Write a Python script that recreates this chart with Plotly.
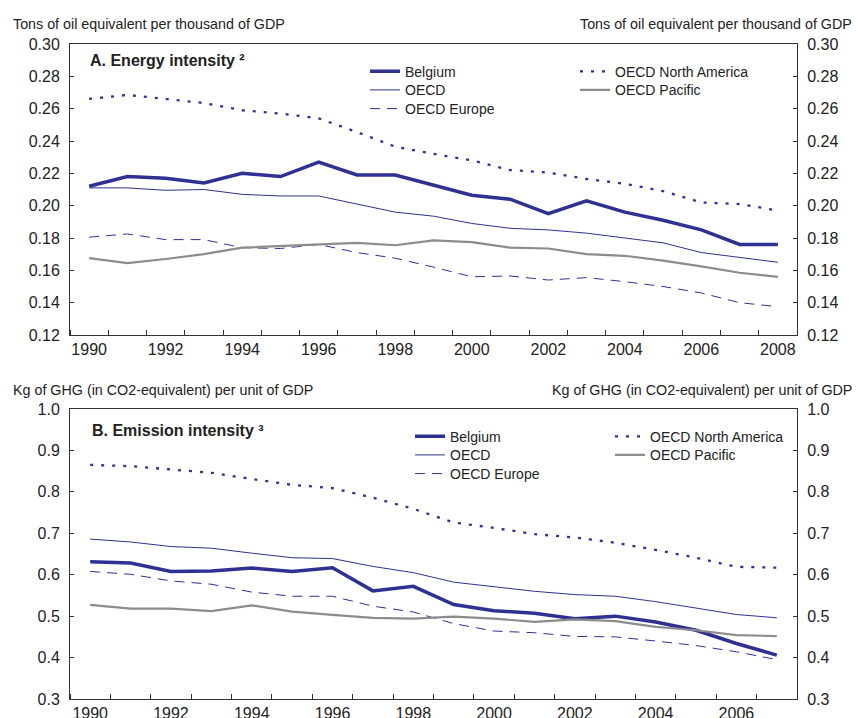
import plotly.graph_objects as go

years_energy = list(range(1990, 2009))
years_ghg = list(range(1990, 2008))

belgium_energy = [0.212, 0.218, 0.217, 0.214, 0.220, 0.218, 0.227, 0.219, 0.219, 0.213, 0.2065, 0.204, 0.195, 0.203, 0.196, 0.191, 0.185, 0.176, 0.176]
oecd_energy = [0.211, 0.211, 0.2095, 0.210, 0.207, 0.206, 0.206, 0.201, 0.196, 0.1935, 0.189, 0.186, 0.185, 0.183, 0.180, 0.177, 0.171, 0.168, 0.165]
europe_energy = [0.1805, 0.1825, 0.179, 0.179, 0.174, 0.1735, 0.176, 0.171, 0.1675, 0.162, 0.156, 0.1565, 0.154, 0.1555, 0.153, 0.150, 0.146, 0.140, 0.1375]
namerica_energy = [0.266, 0.2685, 0.266, 0.2635, 0.259, 0.257, 0.254, 0.2455, 0.2365, 0.232, 0.228, 0.222, 0.2205, 0.2165, 0.2135, 0.209, 0.202, 0.201, 0.197]
pacific_energy = [0.1675, 0.1645, 0.167, 0.170, 0.174, 0.175, 0.176, 0.177, 0.1755, 0.1785, 0.1775, 0.174, 0.1735, 0.170, 0.169, 0.166, 0.1625, 0.1585, 0.156]

belgium_ghg = [0.631, 0.628, 0.608, 0.609, 0.616, 0.608, 0.617, 0.561, 0.572, 0.528, 0.513, 0.507, 0.494, 0.500, 0.486, 0.466, 0.434, 0.406]
oecd_ghg = [0.686, 0.679, 0.668, 0.664, 0.652, 0.641, 0.639, 0.620, 0.605, 0.582, 0.571, 0.560, 0.552, 0.548, 0.535, 0.520, 0.504, 0.496]
europe_ghg = [0.608, 0.601, 0.585, 0.577, 0.558, 0.548, 0.548, 0.524, 0.510, 0.482, 0.464, 0.460, 0.451, 0.450, 0.440, 0.429, 0.414, 0.395]
namerica_ghg = [0.865, 0.862, 0.854, 0.846, 0.831, 0.817, 0.809, 0.786, 0.759, 0.726, 0.713, 0.698, 0.690, 0.677, 0.660, 0.641, 0.619, 0.617]
pacific_ghg = [0.527, 0.518, 0.518, 0.512, 0.526, 0.511, 0.503, 0.496, 0.494, 0.499, 0.494, 0.486, 0.492, 0.488, 0.474, 0.466, 0.454, 0.452]

series_names = ["Belgium", "OECD", "OECD Europe", "OECD North America", "OECD Pacific"]

BLUE = "#2E3192"
GRAY = "#8C8C8C"
FONT = "Liberation Sans, Arial, sans-serif"
TXT = "#222222"

styles = {
    "Belgium": dict(color=BLUE, width=3.5),
    "OECD": dict(color=BLUE, width=1),
    "OECD Europe": dict(color=BLUE, width=1, dash="10px,7px"),
    "OECD North America": dict(color=BLUE, width=2.3, dash="3px,8px"),
    "OECD Pacific": dict(color=GRAY, width=2.2),
}

# figure geometry, in window pixels (page margin removed below)
W, H = 856, 718
L, T = 70, 44
R = W - 797
B = H - 699
PW = W - L - R
PH = H - T - B


def px_x(p):
    return (p - L) / PW


def px_y(p):
    return (H - B - p) / PH


# legend placement: (text-left x, row centre y)
top_leg_pos = {
    "Belgium": (405, 70.7), "OECD": (405, 89.3), "OECD Europe": (405, 108),
    "OECD North America": (615, 70.7), "OECD Pacific": (615, 89.3),
}
bot_leg_pos = {
    "Belgium": (450, 435.7), "OECD": (450, 454.3), "OECD Europe": (450, 473),
    "OECD North America": (650, 435.7), "OECD Pacific": (650, 454.3),
}
right_axis = {"OECD North America", "OECD Pacific"}

fig = go.Figure()

top_data = [belgium_energy, oecd_energy, europe_energy, namerica_energy, pacific_energy]
bot_data = [belgium_ghg, oecd_ghg, europe_ghg, namerica_ghg, pacific_ghg]

legend_common = dict(font=dict(family=FONT, size=14, color=TXT),
                     bgcolor="rgba(0,0,0,0)", borderwidth=0,
                     xanchor="left", yanchor="top", tracegroupgap=0)
legends = {}
n = 0
for xs, data, xa, ya_l, ya_r, pos in [
        (years_energy, top_data, "x", "y", "y2", top_leg_pos),
        (years_ghg, bot_data, "x2", "y3", "y4", bot_leg_pos)]:
    for name, vals in zip(series_names, data):
        n += 1
        key = "legend" if n == 1 else f"legend{n}"
        tx, cy = pos[name]
        legends[key] = dict(x=px_x(tx - 40), y=px_y(cy - 15), **legend_common)
        fig.add_trace(go.Scatter(x=xs, y=vals, name=name, mode="lines",
                                 line=styles[name], xaxis=xa,
                                 yaxis=ya_r if name in right_axis else ya_l,
                                 legend=key))

top_dom = [px_y(335), 1.0]
bot_dom = [0.0, px_y(409)]

tickfont = dict(family=FONT, size=16, color=TXT)
linecol = "#333333"


def xaxis(rng, anchor):
    return dict(
        range=rng, anchor=anchor, domain=[0, 1],
        showline=True, linecolor=linecol, linewidth=1, mirror=True,
        tick0=1990, dtick=2, ticks="", showgrid=False, zeroline=False,
        tickfont=tickfont, automargin=False,
        minor=dict(ticks="inside", tick0=1989.5, dtick=1, ticklen=5,
                   tickcolor=linecol, showgrid=False),
    )


def yaxis(rng, dtick, fmt, dom, side="left", overlay=None, anchor="x"):
    d = dict(
        range=rng, domain=dom, dtick=dtick, tick0=rng[0], tickformat=fmt,
        showline=True, linecolor=linecol, linewidth=1,
        ticks="inside", ticklen=4, tickcolor=linecol,
        showgrid=False, zeroline=False, tickfont=tickfont,
        side=side, anchor=anchor, ticklabelstandoff=6, automargin=False,
    )
    if overlay:
        d["overlaying"] = overlay
    return d


fig.update_layout(
    width=W, height=H,
    margin=dict(l=L, r=R, t=T, b=B),
    paper_bgcolor="white", plot_bgcolor="white",
    font=dict(family=FONT, color=TXT),
    showlegend=True,
    xaxis=xaxis([1989.5, 2008.5], "y"),
    xaxis2=xaxis([1989.5, 2007.5], "y3"),
    yaxis=yaxis([0.12, 0.30], 0.02, ".2f", top_dom, anchor="x"),
    yaxis2=yaxis([0.12, 0.30], 0.02, ".2f", top_dom, side="right", overlay="y", anchor="x"),
    yaxis3=yaxis([0.3, 1.0], 0.1, ".1f", bot_dom, anchor="x2"),
    yaxis4=yaxis([0.3, 1.0], 0.1, ".1f", bot_dom, side="right", overlay="y3", anchor="x2"),
    **legends,
)

anno_font = dict(family=FONT, size=14.3, color=TXT)
title_font = dict(family=FONT, size=16, color=TXT)
fig.add_annotation(text="Tons of oil equivalent per thousand of GDP", xref="paper", yref="paper",
                   x=px_x(11), y=px_y(24), xanchor="left", yanchor="middle", showarrow=False, font=anno_font)
fig.add_annotation(text="Tons of oil equivalent per thousand of GDP", xref="paper", yref="paper",
                   x=px_x(854), y=px_y(24), xanchor="right", yanchor="middle", showarrow=False, font=anno_font)
fig.add_annotation(text="Kg of GHG (in CO2-equivalent) per unit of GDP", xref="paper", yref="paper",
                   x=px_x(11), y=px_y(390), xanchor="left", yanchor="middle", showarrow=False, font=anno_font)
fig.add_annotation(text="Kg of GHG (in CO2-equivalent) per unit of GDP", xref="paper", yref="paper",
                   x=px_x(854), y=px_y(390), xanchor="right", yanchor="middle", showarrow=False, font=anno_font)
fig.add_annotation(text="<b>A. Energy intensity ²</b>", xref="paper", yref="paper",
                   x=px_x(88), y=px_y(60), xanchor="left", yanchor="middle", showarrow=False, font=title_font)
fig.add_annotation(text="<b>B. Emission intensity ³</b>", xref="paper", yref="paper",
                   x=px_x(90), y=px_y(430), xanchor="left", yanchor="middle", showarrow=False, font=title_font)

fig.write_html("out.html",
               config={"displayModeBar": False},
               post_script="document.body.style.margin='0';document.body.style.overflow='hidden';")
